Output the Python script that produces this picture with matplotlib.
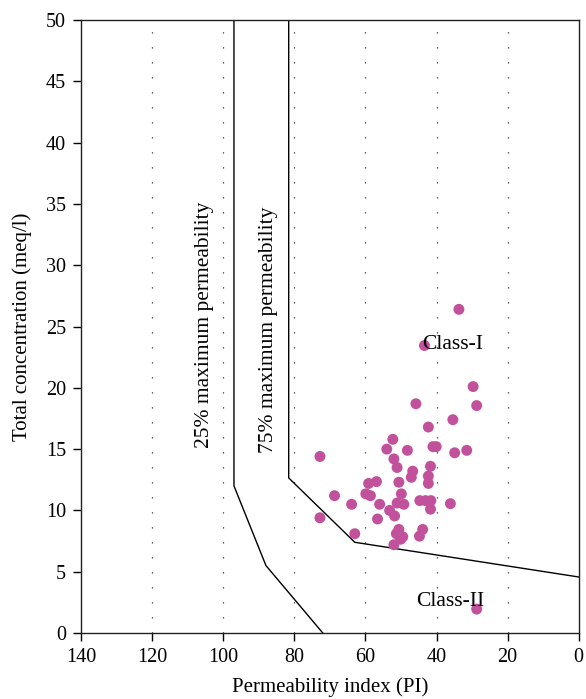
import numpy as np
import matplotlib
matplotlib.use("Agg")
import matplotlib.pyplot as plt

plt.rcParams['font.family'] = ['Liberation Serif', 'DejaVu Serif']

# sample points (permeability index, total concentration)
pi_vals = [33.7, 43.4, 29.7, 45.8, 28.7, 35.4, 42.3, 52.3, 54.0, 48.2,
           41.0, 40.1, 34.9, 31.5, 72.8, 52.0, 51.1, 41.7, 46.7, 47.1,
           42.3, 56.9, 59.1, 50.6, 42.3, 68.7, 59.9, 58.6, 49.9, 63.9,
           56.0, 51.1, 49.2, 44.7, 43.1, 41.6, 36.1, 41.7, 53.2, 51.8,
           72.8, 56.6, 63.0, 50.6, 51.3, 49.5, 50.1, 43.9, 44.8, 52.0,
           28.7]
tc_vals = [26.4, 23.45, 20.1, 18.7, 18.55, 17.4, 16.8, 15.8, 15.0, 14.9,
           15.2, 15.2, 14.7, 14.9, 14.4, 14.2, 13.5, 13.6, 13.2, 12.7,
           12.8, 12.35, 12.2, 12.3, 12.2, 11.2, 11.35, 11.2, 11.35, 10.5,
           10.5, 10.6, 10.5, 10.8, 10.8, 10.8, 10.55, 10.1, 10.0, 9.55,
           9.4, 9.3, 8.1, 8.45, 8.1, 7.85, 7.65, 8.45, 7.9, 7.2,
           1.95]

# boundary curves
line25_x = [97, 97, 88, 72]
line25_y = [50, 12, 5.5, 0]
line75_x = [81.6, 81.6, 63, 0]
line75_y = [50, 12.65, 7.4, 4.57]

fig = plt.figure(figsize=(5.86, 6.99), dpi=100)
ax = fig.add_axes([0.1385, 0.0944, 0.849, 0.8770])

for gx in [120, 100, 80, 60, 40, 20]:
    ax.axvline(gx, color='#333333', lw=0.9, linestyle=(0, (1, 11)), zorder=0)

ax.plot(line25_x, line25_y, color='black', lw=1.0)
ax.plot(line75_x, line75_y, color='black', lw=1.0)

ax.scatter(pi_vals, tc_vals, s=62, color='#c2519c', edgecolors='none', zorder=3)

ax.text(105.4, 25.1, '25% maximum permeability', rotation=90, ha='center', va='center', fontsize=15.5)
ax.text(87.4, 24.7, '75% maximum permeability', rotation=90, ha='center', va='center', fontsize=15.5)
ax.text(35.6, 23.5, 'Class-I', ha='center', va='center', fontsize=15.5)
ax.text(36.0, 2.6, 'Class-II', ha='center', va='center', fontsize=15.5)

ax.set_xlim(140, 0)
ax.set_ylim(0, 50)
ax.set_xticks(np.arange(140, -1, -20))
ax.set_yticks(np.arange(0, 51, 5))
ax.tick_params(direction='out', length=6, width=1.0, labelsize=14.5, pad=5)
for sp in ax.spines.values():
    sp.set_linewidth(1.0)
    sp.set_color('#222222')

ax.set_xlabel('Permeability index (PI)', fontsize=15, labelpad=7)
ax.set_ylabel('Total concentration (meq/l)', fontsize=15, labelpad=10)

fig.savefig('out.png', dpi=100)
